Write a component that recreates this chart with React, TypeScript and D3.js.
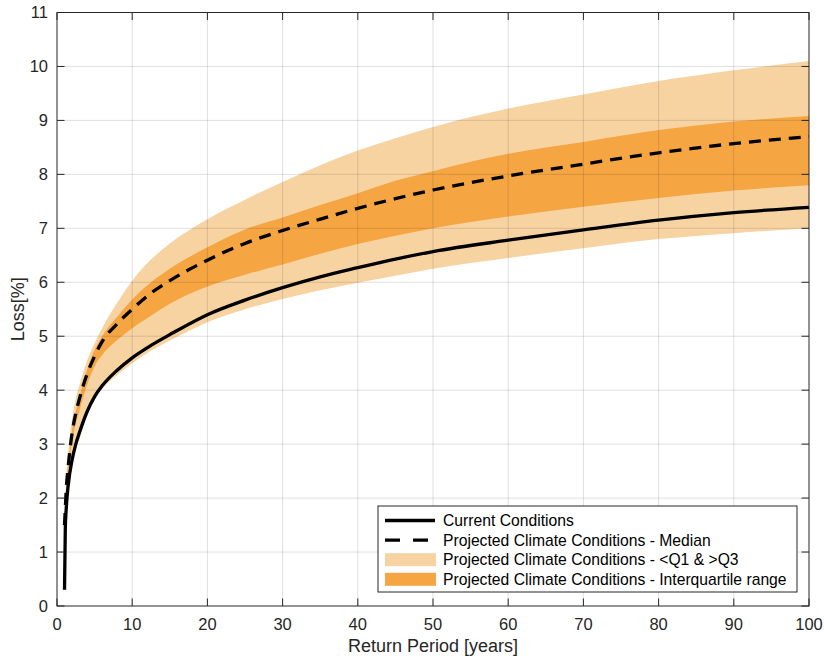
import React, { useRef, useEffect } from "react";
import * as d3 from "d3";

// return periods (years) shared by every series
const returnPeriods = [1, 1.1, 1.25, 1.5, 2, 2.5, 3, 4, 5, 6, 8, 10, 12.5, 15, 20, 25, 30, 35, 40, 45, 50, 60, 70, 80, 90, 100];

const currentLoss = [0.3, 1.4, 1.85, 2.25, 2.7, 3.0, 3.22, 3.6, 3.88, 4.08, 4.37, 4.6, 4.83, 5.03, 5.4, 5.67, 5.9, 6.1, 6.27, 6.43, 6.57, 6.78, 6.97, 7.15, 7.29, 7.39];
const medianLoss = [1.5, 1.8, 2.2, 2.6, 3.2, 3.57, 3.85, 4.3, 4.63, 4.9, 5.23, 5.5, 5.8, 6.03, 6.41, 6.72, 6.96, 7.17, 7.37, 7.55, 7.71, 7.97, 8.19, 8.4, 8.57, 8.7];
const q1Loss = [1.5, 1.75, 2.1, 2.45, 3.05, 3.38, 3.63, 4.1, 4.44, 4.65, 4.93, 5.15, 5.38, 5.6, 5.92, 6.14, 6.33, 6.53, 6.71, 6.86, 7.0, 7.22, 7.4, 7.56, 7.7, 7.8];
const q3Loss = [1.55, 1.85, 2.25, 2.65, 3.25, 3.6, 3.88, 4.38, 4.75, 5.0, 5.36, 5.68, 6.0, 6.25, 6.65, 6.98, 7.2, 7.43, 7.65, 7.88, 8.06, 8.38, 8.6, 8.82, 8.98, 9.08];
const minLoss = [1.45, 1.7, 2.0, 2.3, 2.65, 2.9, 3.1, 3.55, 3.85, 4.02, 4.28, 4.5, 4.73, 4.92, 5.26, 5.5, 5.69, 5.85, 5.99, 6.12, 6.25, 6.45, 6.63, 6.8, 6.91, 7.0];
const maxLoss = [1.6, 1.95, 2.4, 2.85, 3.45, 3.85, 4.1, 4.55, 4.87, 5.15, 5.62, 6.03, 6.42, 6.72, 7.17, 7.53, 7.86, 8.17, 8.44, 8.67, 8.88, 9.22, 9.48, 9.73, 9.93, 10.1];

const xTicks = [0, 10, 20, 30, 40, 50, 60, 70, 80, 90, 100];
const yTicks = [0, 1, 2, 3, 4, 5, 6, 7, 8, 9, 10, 11];

const legendItems = [
  { label: "Current Conditions", kind: "solid" },
  { label: "Projected Climate Conditions - Median", kind: "dashed" },
  { label: "Projected Climate Conditions - <Q1 & >Q3", kind: "light" },
  { label: "Projected Climate Conditions - Interquartile range", kind: "dark" },
];

const W = 824;
const H = 659;
const FONT = "'Liberation Sans', Arial, Helvetica, sans-serif";
const LIGHT = "#F7D3A2";
const DARK = "#F5A542";
const AXIS = "#262626";

const App = () => {
  const svgRef = useRef<SVGSVGElement | null>(null);

  useEffect(() => {
    const svg = d3.select(svgRef.current);
    svg.selectAll("*").remove();

    const m = { left: 57, right: 809, top: 12.5, bottom: 606 };
    const x = d3.scaleLinear().domain([0, 100]).range([m.left, m.right]);
    const y = d3.scaleLinear().domain([0, 11]).range([m.bottom, m.top]);

    svg.append("defs").append("clipPath").attr("id", "plot-clip")
      .append("rect")
      .attr("x", m.left).attr("y", m.top)
      .attr("width", m.right - m.left).attr("height", m.bottom - m.top);

    const idx = d3.range(returnPeriods.length);
    const plot = svg.append("g").attr("clip-path", "url(#plot-clip)");

    const band = (lo: number[], hi: number[]) =>
      d3.area<number>()
        .x(i => x(returnPeriods[i]))
        .y0(i => y(lo[i]))
        .y1(i => y(hi[i]))
        .curve(d3.curveMonotoneX)(idx);

    plot.append("path").attr("d", band(minLoss, maxLoss)).attr("fill", LIGHT);
    plot.append("path").attr("d", band(q1Loss, q3Loss)).attr("fill", DARK);

    // grid over the patches
    const grid = svg.append("g")
      .attr("stroke", AXIS).attr("stroke-opacity", 0.14).attr("stroke-width", 1);
    xTicks.slice(1, -1).forEach(t => {
      grid.append("line").attr("x1", x(t)).attr("x2", x(t)).attr("y1", m.top).attr("y2", m.bottom);
    });
    yTicks.slice(1, -1).forEach(t => {
      grid.append("line").attr("x1", m.left).attr("x2", m.right).attr("y1", y(t)).attr("y2", y(t));
    });

    const line = (vals: number[]) =>
      d3.line<number>()
        .x(i => x(returnPeriods[i]))
        .y(i => y(vals[i]))
        .curve(d3.curveMonotoneX)(idx);

    plot.append("path").attr("d", line(currentLoss))
      .attr("fill", "none").attr("stroke", "#000").attr("stroke-width", 3.3);
    plot.append("path").attr("d", line(medianLoss))
      .attr("fill", "none").attr("stroke", "#000").attr("stroke-width", 3.3)
      .attr("stroke-dasharray", "12 8");

    // axes box with inward ticks on all sides
    const ax = svg.append("g").attr("stroke", AXIS).attr("stroke-width", 1);
    ax.append("rect")
      .attr("x", m.left).attr("y", m.top)
      .attr("width", m.right - m.left).attr("height", m.bottom - m.top)
      .attr("fill", "none");
    const tl = 7.5;
    xTicks.forEach(t => {
      ax.append("line").attr("x1", x(t)).attr("x2", x(t)).attr("y1", m.bottom).attr("y2", m.bottom - tl);
      ax.append("line").attr("x1", x(t)).attr("x2", x(t)).attr("y1", m.top).attr("y2", m.top + tl);
    });
    yTicks.forEach(t => {
      ax.append("line").attr("x1", m.left).attr("x2", m.left + tl).attr("y1", y(t)).attr("y2", y(t));
      ax.append("line").attr("x1", m.right).attr("x2", m.right - tl).attr("y1", y(t)).attr("y2", y(t));
    });

    const labels = svg.append("g").attr("font-family", FONT).attr("fill", AXIS);
    xTicks.forEach(t => {
      labels.append("text").attr("x", x(t)).attr("y", 630)
        .attr("text-anchor", "middle").attr("font-size", 16.5).text(t);
    });
    yTicks.forEach(t => {
      labels.append("text").attr("x", 48).attr("y", y(t)).attr("dy", "0.36em")
        .attr("text-anchor", "end").attr("font-size", 16.5).text(t);
    });
    labels.append("text").attr("x", (m.left + m.right) / 2).attr("y", 652)
      .attr("text-anchor", "middle").attr("font-size", 18).text("Return Period [years]");
    labels.append("text")
      .attr("transform", `translate(24,${(m.top + m.bottom) / 2}) rotate(-90)`)
      .attr("text-anchor", "middle").attr("font-size", 18).text("Loss[%]");

    // legend
    const lg = svg.append("g");
    lg.append("rect").attr("x", 378).attr("y", 506).attr("width", 419).attr("height", 86)
      .attr("fill", "#fff").attr("stroke", AXIS).attr("stroke-width", 1);
    legendItems.forEach((d, i) => {
      const cy = 520.5 + i * 19.6;
      if (d.kind === "solid" || d.kind === "dashed") {
        const l = lg.append("line").attr("x1", 385).attr("x2", 435).attr("y1", cy).attr("y2", cy)
          .attr("stroke", "#000").attr("stroke-width", 3.3);
        if (d.kind === "dashed") l.attr("stroke-dasharray", "15 13");
      } else {
        lg.append("rect").attr("x", 385).attr("y", cy - 6.5).attr("width", 51).attr("height", 13)
          .attr("fill", d.kind === "light" ? LIGHT : DARK);
      }
      lg.append("text").attr("x", 443).attr("y", cy).attr("dy", "0.36em")
        .attr("font-family", FONT).attr("font-size", 15.7).attr("fill", "#000").text(d.label);
    });
  }, []);

  return (
    <svg
      ref={svgRef}
      width={W}
      height={H}
      style={{ position: "absolute", left: 0, top: 0, background: "#fff" }}
    />
  );
};

export default App;
